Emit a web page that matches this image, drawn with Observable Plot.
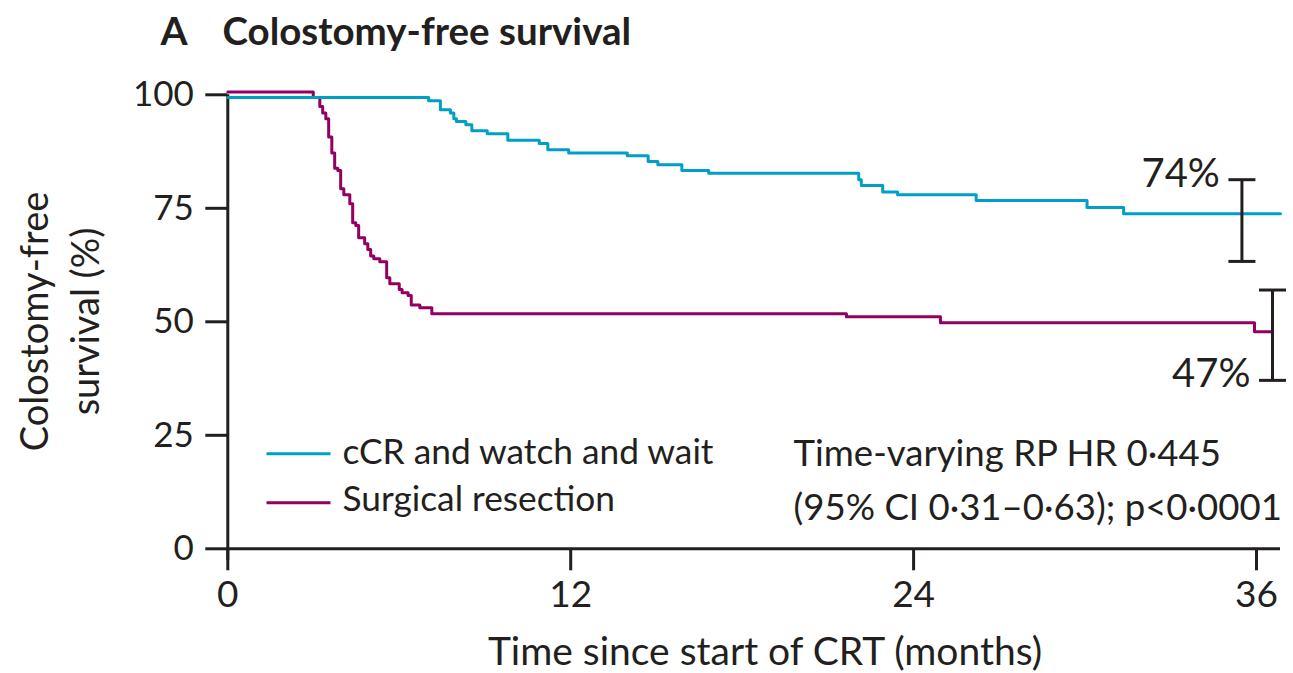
<!DOCTYPE html>
<html>
<head>
<meta charset="utf-8">
<script src="https://cdn.jsdelivr.net/npm/d3@7"></script>
<script src="https://cdn.jsdelivr.net/npm/@observablehq/plot@0.6"></script>
<style>
  html, body { margin: 0; padding: 0; background: #ffffff; }
  #chart { width: 1293px; height: 673px; overflow: hidden; }
</style>
</head>
<body>
<div id="chart"></div>
<script>
// ---- data ----
const groups = ["cCR and watch and wait", "Surgical resection"];
const colors = ["#00a0c6", "#920060"];

// cCR and watch and wait: months / colostomy-free survival (%)
const wwTimes = [0, 7.03, 7.44, 7.79, 7.91, 8.00, 8.33, 8.54, 9.08, 9.80, 10.90, 11.20, 11.93, 13.98, 14.71, 15.05, 15.89, 16.83, 22.08, 22.17, 22.92, 23.44, 26.19, 30.07, 31.35, 36.84];
const wwSurv  = [99.4, 98.7, 96.7, 96.0, 94.7, 94.1, 93.4, 92.1, 91.4, 90.0, 89.3, 87.9, 87.2, 86.6, 85.3, 84.6, 83.3, 82.7, 81.3, 80.0, 78.6, 78.0, 76.7, 75.2, 73.8, 73.8];

// Surgical resection
const srTimes = [0, 2.99, 3.22, 3.32, 3.43, 3.53, 3.64, 3.74, 3.85, 3.95, 4.06, 4.27, 4.37, 4.48, 4.58, 4.79, 4.90, 5.00, 5.11, 5.32, 5.56, 5.67, 6.00, 6.10, 6.31, 6.42, 6.72, 7.14, 21.65, 24.94, 35.93, 36.54];
const srSurv  = [100.6, 99.4, 97.4, 96.0, 94.7, 90.7, 87.2, 83.8, 83.3, 79.3, 78.0, 76.0, 71.8, 71.2, 68.5, 67.2, 65.9, 64.5, 63.9, 63.2, 59.7, 58.4, 57.1, 56.4, 55.8, 53.7, 53.1, 51.8, 51.1, 49.8, 47.8, 47.8];

// 3-year estimates with 95% CI bars
const ciTime = [35.49, 36.56];
const ciLow  = [63.3, 37.1];
const ciHigh = [81.3, 57.0];
const endLabels = ["74%", "47%"];

// ticks and texts
const xTicks = [0, 12, 24, 36];
const yTicks = [0, 25, 50, 75, 100];
const panelLetter = "A";
const titleText = "Colostomy-free survival";
const xLabel = "Time since start of CRT (months)";
const yLabelLines = ["Colostomy-free", "survival (%)"];
const statsLines = ["Time-varying RP HR 0·445", "(95% CI 0·31–0·63); p<0·0001"];

// ---- layout / style ----
const W = 1293, H = 673;
const M = {left: 227.3, right: 13, top: 94.3, bottom: 124.7};
const xMax = 36.84;
const yAxisBottom = -2.6;
const ink = "#231f20";
const font = "Lato, 'Open Sans', sans-serif";

const rows = [];
srTimes.forEach((t, i) => rows.push({group: groups[1], t, s: srSurv[i]}));
wwTimes.forEach((t, i) => rows.push({group: groups[0], t, s: wwSurv[i]}));

const ci = ciTime.map((t, i) => ({
  group: groups[i], t, lo: ciLow[i], hi: ciHigh[i], label: endLabels[i],
  ly: i === 0 ? ciHigh[i] : ciLow[i]
}));

// horizontal bar symbol (for CI caps and legend swatches), half-width = r
const hbar = {draw(ctx, size) { const r = Math.sqrt(size / Math.PI); ctx.moveTo(-r, 0); ctx.lineTo(r, 0); }};

// absolute page position -> frame-anchored offsets
const at = (X, Y) => ({frameAnchor: "top-left", dx: X - M.left, dy: Y - M.top});

const legendMarks = groups.flatMap((g, i) => {
  const lineY = [453.3, 502.3][i];
  const baseY = [463.3, 510.7][i];
  return [
    Plot.dot([g], {...at(298, lineY), symbol: hbar, r: 32, stroke: colors[i], strokeWidth: 3, fill: "none"}),
    Plot.text([g], {...at(342, baseY), text: d => d, textAnchor: "start", lineAnchor: "bottom", fontSize: 35.3, fill: ink})
  ];
});

const chart = Plot.plot({
  width: W, height: H,
  marginLeft: M.left, marginRight: M.right, marginTop: M.top, marginBottom: M.bottom,
  style: {fontFamily: font, color: ink, background: "#ffffff", overflow: "visible"},
  x: {domain: [0, xMax]},
  y: {domain: [0, 100]},
  color: {domain: groups, range: colors},
  marks: [
    Plot.axisY({ticks: yTicks, tickSize: 22, tickPadding: 12, fontSize: 35, strokeWidth: 3, label: null, tickFormat: d => String(d)}),
    Plot.axisX({ticks: xTicks, tickSize: 22, tickPadding: 10, fontSize: 37, strokeWidth: 3, label: null, tickFormat: d => String(d)}),
    Plot.ruleY([0], {stroke: ink, strokeWidth: 3}),
    Plot.ruleX([0], {y1: yAxisBottom, y2: 100, stroke: ink, strokeWidth: 3}),
    Plot.line(rows, {x: "t", y: "s", z: "group", stroke: "group", curve: "step-after", strokeWidth: 3}),
    Plot.ruleX(ci, {x: "t", y1: "lo", y2: "hi", stroke: ink, strokeWidth: 3}),
    Plot.dot(ci, {x: "t", y: "lo", symbol: hbar, r: 13.5, stroke: ink, strokeWidth: 3, fill: "none"}),
    Plot.dot(ci, {x: "t", y: "hi", symbol: hbar, r: 13.5, stroke: ink, strokeWidth: 3, fill: "none"}),
    Plot.text(ci, {x: "t", y: "ly", text: "label", textAnchor: "end", lineAnchor: "bottom", dx: -22, dy: 7, fontSize: 40, fill: ink}),
    // title
    Plot.text([panelLetter], {...at(160, 44), text: d => d, textAnchor: "start", lineAnchor: "bottom", fontSize: 39, fontWeight: "bold", fill: ink}),
    Plot.text([titleText], {...at(222, 44), text: d => d, textAnchor: "start", lineAnchor: "bottom", fontSize: 38.5, fontWeight: "bold", fill: ink}),
    // axis labels
    Plot.text([xLabel], {...at(764.5, 664), text: d => d, textAnchor: "middle", lineAnchor: "bottom", fontSize: 39, fill: ink}),
    Plot.text([yLabelLines.join("\n")], {...at(98, 321), text: d => d, rotate: -90, textAnchor: "middle", lineAnchor: "bottom", lineHeight: 1.32, fontSize: 38, fill: ink}),
    // legend
    ...legendMarks,
    // statistics
    Plot.text([statsLines.join("\n")], {...at(793, 519), text: d => d, textAnchor: "start", lineAnchor: "bottom", lineHeight: 1.45, fontSize: 36.6, fill: ink})
  ]
});

document.getElementById("chart").appendChild(chart);
</script>
</body>
</html>
